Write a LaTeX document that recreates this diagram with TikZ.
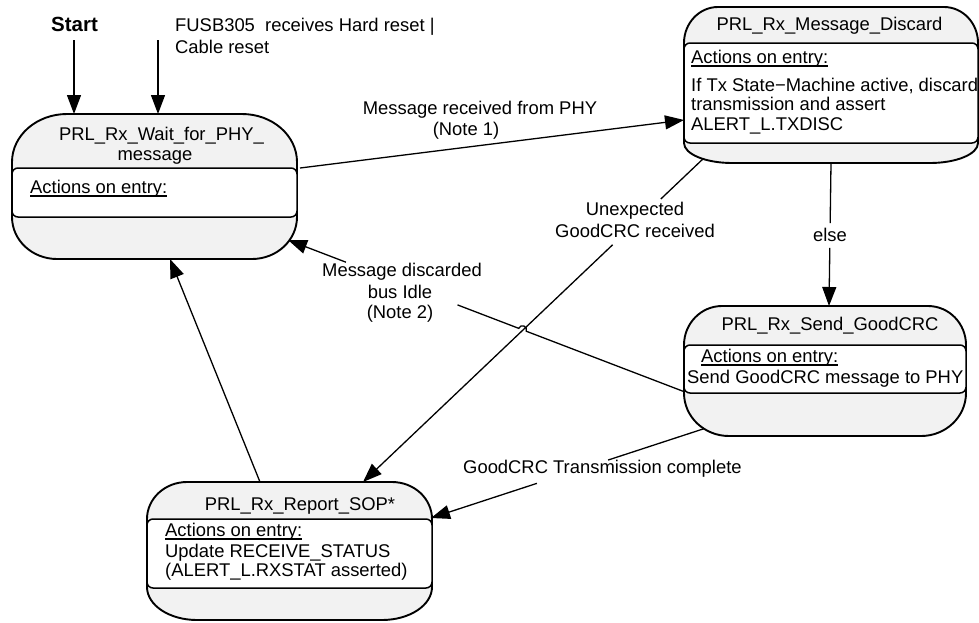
\documentclass[tikz,border=0pt]{standalone}
\usepackage{fontspec}
\setmainfont{Liberation Sans}
\usetikzlibrary{arrows.meta,calc}
\definecolor{stategray}{RGB}{242,242,242}
% outer state outline: x1,y1,x2,y2, top rx, top ry, bottom rx, bottom ry
\newcommand\stateshape[8]{%
  \filldraw[stateouter] (#1+#5,#2) -- (#3-#5,#2)
    .. controls (#3-0.4477*#5,#2) and (#3,#2+0.4477*#6) .. (#3,#2+#6)
    -- (#3,#4-#8)
    .. controls (#3,#4-0.4477*#8) and (#3-0.4477*#7,#4) .. (#3-#7,#4)
    -- (#1+#7,#4)
    .. controls (#1+0.4477*#7,#4) and (#1,#4-0.4477*#8) .. (#1,#4-#8)
    -- (#1,#2+#6)
    .. controls (#1,#2+0.4477*#6) and (#1+0.4477*#5,#2) .. (#1+#5,#2) -- cycle;}
\begin{document}
\begin{tikzpicture}[x=1pt,y=-1pt,
  conn/.style={line width=1.3pt,draw=black},
  arr/.style={conn,-{Triangle[length=19pt,width=14pt]}},
  stateouter/.style={line width=1.9pt,fill=stategray,draw=black},
  stateinner/.style={line width=1.5pt,fill=white,draw=black,rounded corners=6pt},
  txt/.style={inner sep=0pt,font=\fontsize{18.4}{20}\selectfont},
  lbl/.style={txt,anchor=base},
  lbll/.style={txt,anchor=base west},
  bold/.style={inner sep=0pt,anchor=base,font=\fontsize{20.5}{22}\selectfont\bfseries},
  uline/.style={line width=1.2pt}]
\useasboundingbox (0,0) rectangle (979,622);

% ---------- connector end points ----------
\coordinate (st0) at (74,40);   \coordinate (st1) at (74,114);
\coordinate (rs0) at (158,40);  \coordinate (rs1) at (158,114);
\coordinate (ab1) at (300,168); \coordinate (ab2) at (684,120);
\coordinate (bd1) at (705,157); \coordinate (bd2) at (363,482);
\coordinate (bc1) at (831,163); \coordinate (bc2) at (829,306);
\coordinate (ca1) at (685,392); \coordinate (ca2) at (288,240);
\coordinate (cd1) at (706,428); \coordinate (cd2) at (431,518);
\coordinate (da1) at (260,482); \coordinate (da2) at (170,259);

\coordinate (bdg1) at ($(bd1)!0.129!(bd2)$); \coordinate (bdg2) at ($(bd1)!0.27!(bd2)$);
\coordinate (bcg1) at ($(bc1)!0.42!(bc2)$);  \coordinate (bcg2) at ($(bc1)!0.594!(bc2)$);
\coordinate (caj1) at ($(ca1)!0.400!(ca2)$); \coordinate (caj2) at ($(ca1)!0.4188!(ca2)$);
\coordinate (cag1) at ($(ca1)!0.573!(ca2)$); \coordinate (cag2) at ($(ca1)!0.854!(ca2)$);
\coordinate (cdg1) at ($(cd1)!0.356!(cd2)$); \coordinate (cdg2) at ($(cd1)!0.615!(cd2)$);

% ---------- connectors ----------
\draw[arr] (st0) -- (st1);
\draw[arr] (rs0) -- (rs1);
\draw[arr] (ab1) -- (ab2);
\draw[conn] (bd1) -- (bdg1);
\draw[arr] (bdg2) -- (bd2);
\draw[conn] (bc1) -- (bcg1);
\draw[arr] (bcg2) -- (bc2);
\draw[conn] (ca1) -- (caj1) .. controls +(1.9,-5) and +(1.9,-5) .. (caj2) -- (cag1);
\draw[arr] (cag2) -- (ca2);
\draw[conn] (cd1) -- (cdg1);
\draw[arr] (cdg2) -- (cd2);
\draw[arr] (da1) -- (da2);

% ---------- states ----------
% PRL_Rx_Wait_for_PHY_message
\stateshape{12}{114}{297}{259}{55}{48}{45}{42}
\draw[stateinner] (12,168) rectangle (297,217);
\node[lbl] (atitle1) at (161.5,140) {PRL\_Rx\_Wait\_for\_PHY\_};
\node[lbl] (atitle2) at (155,160) {message};
\node[lbll] (aact) at (30,193) {Actions on entry:};
\draw[uline] ([yshift=-3pt]aact.base west) -- ([yshift=-3pt]aact.base east);

% PRL_Rx_Message_Discard
\stateshape{684}{7}{978}{163}{34}{36}{48}{20}
\draw[stateinner] (684,43) rectangle (978,143);
\node[lbl] (btitle) at (829.5,30) {PRL\_Rx\_Message\_Discard};
\node[lbll] (bact) at (691,63) {Actions on entry:};
\draw[uline] ([yshift=-3pt]bact.base west) -- ([yshift=-3pt]bact.base east);
\node[lbll] (bl1) at (691,91) {If Tx State−Machine active, discard};
\node[lbll] (bl2) at (691,110) {transmission and assert};
\node[lbll] (bl3) at (691,130) {ALERT\_L.TXDISC};

% PRL_Rx_Send_GoodCRC
\stateshape{684}{306}{966}{436}{38}{39}{45}{43}
\draw[stateinner] (684,345) rectangle (966,393);
\node[lbl] (ctitle) at (830,330) {PRL\_Rx\_Send\_GoodCRC};
\node[lbll] (cact) at (701,362) {Actions on entry:};
\draw[uline] ([yshift=-3pt]cact.base west) -- ([yshift=-3pt]cact.base east);
\node[lbll] (cl1) at (687,383) {Send GoodCRC message to PHY};

% PRL_Rx_Report_SOP*
\stateshape{147}{482}{432}{620}{40}{37}{50}{33}
\draw[stateinner] (147,519) rectangle (432,588);
\node[lbl] (dtitle) at (300,510) {PRL\_Rx\_Report\_SOP*};
\node[lbll] (dact) at (165,536) {Actions on entry:};
\draw[uline] ([yshift=-3pt]dact.base west) -- ([yshift=-3pt]dact.base east);
\node[lbll] (dl1) at (165,557) {Update RECEIVE\_STATUS};
\node[lbll] (dl2) at (165,576) {(ALERT\_L.RXSTAT asserted)};

% ---------- labels ----------
\node[bold] (start) at (74.5,31) {Start};
\node[lbll] (rst1) at (175,31) {FUSB305~ receives Hard reset |};
\node[lbll] (rst2) at (175,53) {Cable reset};
\node[lbl] (n1a) at (480,114) {Message received from PHY};
\node[lbl] (n1b) at (466,135) {(Note 1)};
\node[lbl] (ua) at (635,215) {Unexpected};
\node[lbl] (ub) at (635,237) {GoodCRC received};
\node[lbl] (els) at (830,241) {else};
\node[lbl] (n2a) at (402,276) {Message discarded};
\node[lbl] (n2b) at (400,298) {bus Idle};
\node[lbl] (n2c) at (400,318) {(Note 2)};
\node[lbll] (gtc) at (463,473) {GoodCRC Transmission complete};
\end{tikzpicture}
\end{document}
